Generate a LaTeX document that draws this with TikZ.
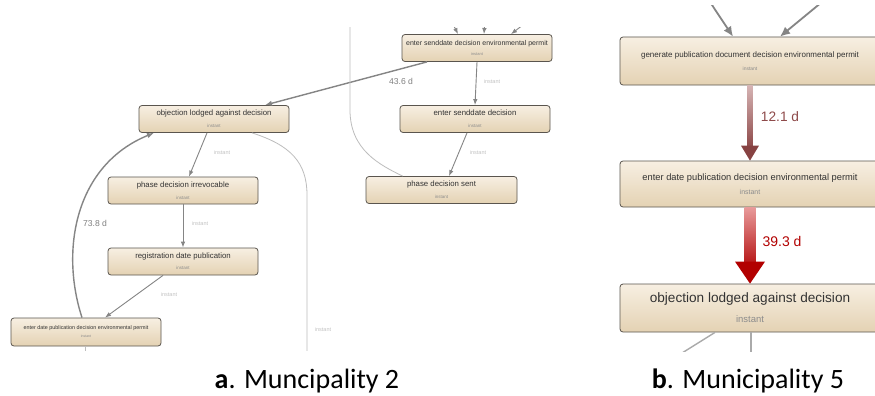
\documentclass[tikz,border=0pt]{standalone}
\usepackage{fontspec}
\setmainfont{Liberation Sans}
\newfontfamily\capfont{Carlito}
\usetikzlibrary{arrows.meta,calc}
\definecolor{boxedge}{HTML}{5A554E}
\definecolor{boxtop}{HTML}{F7EFE2}
\definecolor{boxbot}{HTML}{E4D2B3}
\definecolor{boxtext}{HTML}{333333}
\definecolor{subgray}{HTML}{8C8C8C}
\definecolor{flowgray}{HTML}{858585}
\definecolor{lightline}{HTML}{BDBDBD}
\definecolor{edgelbl}{HTML}{C2C2C2}
\definecolor{durgray}{HTML}{808080}
\definecolor{midtop}{HTML}{D6B4B4}
\definecolor{midbot}{HTML}{8E4A4A}
\definecolor{midhead}{HTML}{874242}
\definecolor{hottop}{HTML}{E89A9A}
\definecolor{hotbot}{HTML}{B81A1A}
\definecolor{hothead}{HTML}{B20000}
\newcommand\instlbl[1]{{\color{subgray}\fontsize{#1}{#1}\selectfont instant}}
\begin{document}
\begin{tikzpicture}[x=1pt,y=-1pt,
  box/.style={rectangle, rounded corners=3pt, draw=boxedge, line width=0.8pt,
    top color=boxtop, bottom color=boxbot, inner sep=0pt, align=center,
    text=boxtext},
  smallbox/.style={box, minimum width=150pt, minimum height=27pt},
  bigbox/.style={box, minimum width=260pt, minimum height=48pt},
  flow/.style={draw=flowgray, line width=0.9pt, -{Latex[length=6pt,width=4.5pt]}},
  heavy/.style={draw=flowgray, line width=1.4pt, -{Latex[length=7pt,width=5.5pt]}},
  thin/.style={draw=lightline, line width=0.8pt},
  inlbl/.style={text=edgelbl, font=\fontsize{5.5}{6}\selectfont, inner sep=0pt},
  durlbl/.style={text=durgray, font=\fontsize{8.6}{9}\selectfont, inner sep=0pt},
  bigflow/.style={draw=flowgray, line width=1.8pt, -{Latex[length=10pt,width=9pt]}},
  outline/.style={draw=lightline!90!black, line width=1.4pt},
  caption/.style={font=\capfont\fontsize{28}{30}\selectfont, inner sep=0pt, anchor=base}
]
\fill[white] (0,0) rectangle (875,396);
\useasboundingbox (0,0) rectangle (875,396);

% ---------------- left panel ----------------
\begin{scope}
\clip (0,28) rectangle (565,350);
\node[smallbox, font=\fontsize{7}{10}\selectfont] (A) at (477,48)
  {enter senddate decision environmental permit\\\instlbl{4}};
\node[smallbox, font=\fontsize{7.8}{12}\selectfont] (B) at (214,119)
  {objection lodged against decision\\\instlbl{4.5}};
\node[smallbox, font=\fontsize{7.8}{12}\selectfont] (C) at (475,119)
  {enter senddate decision\\\instlbl{4.5}};
\node[smallbox, minimum width=151pt, font=\fontsize{7.8}{12}\selectfont] (D) at (441.5,190)
  {phase decision sent\\\instlbl{4.5}};
\node[smallbox, font=\fontsize{7.8}{12}\selectfont] (E) at (183,190.5)
  {phase decision irrevocable\\\instlbl{4.5}};
\node[smallbox, font=\fontsize{7.8}{11}\selectfont] (F) at (183,261.5)
  {registration date publication\\\instlbl{4.5}};
\node[smallbox, minimum height=28pt, font=\fontsize{5.4}{8}\selectfont] (G) at (86,332)
  {enter date publication decision environmental permit\\\instlbl{3.5}};

% incoming flows from above the visible area
\coordinate (up1) at (450,18);
\coordinate (up2) at (485,18);
\coordinate (up3) at (532,18);
\coordinate (upline) at (350,18);
\draw[flow] (up1) -- ($(A.north)+(-19,0)$);
\draw[flow] (up2) -- ($(A.north)+(7,0)$);
\draw[flow] (up3) -- ($(A.north)+(34,0)$);

\draw[flow] (A.south) -- (C.north);
\draw[flow] ($(C.south)+(-8,0)$) -- ($(D.north)+(7.5,0)$);
\draw[flow] ($(B.south)+(-7,0)$) -- ($(E.north)+(6,0)$);
\draw[flow] (E.south) -- (F.north);
\draw[flow] ($(F.south)+(-20,0)$) -- ($(G.north)+(19,0)$);
\draw[heavy] ($(A.south)+(-50,0)$) -- ($(B.north)+(51,0)$);
\draw[heavy] ($(G.north)+(-4,0)$) .. controls (60,250) and (75,165) .. ($(B.south)+(-60,0)$);

\draw[thin] (upline) -- (350,110) .. controls (350,150) and (380,165) .. ($(D.north west)+(37,0)$);
\draw[thin] ($(B.south)+(38,0)$) .. controls (290,145) and (307,162) .. (307,195) -- (307,360);
\draw[thin] ($(G.south)+(-1,0)$) -- ++(0,20);

\node[inlbl] at (492,82) {instant};
\node[inlbl] at (478,153) {instant};
\node[inlbl] at (222,153) {instant};
\node[inlbl] at (200,224) {instant};
\node[inlbl] at (169,295) {instant};
\node[inlbl] at (323,330) {instant};
\node[durlbl] at (401,81) {43.6 d};
\node[durlbl] at (95,223) {73.8 d};
\end{scope}

% ---------------- right panel ----------------
\begin{scope}
\clip (580,6) rectangle (875,351);
\node[bigbox, font=\fontsize{8}{13}\selectfont] (H) at (750,61)
  {generate publication document decision environmental permit\\\instlbl{5}};
\node[bigbox, minimum height=46pt, font=\fontsize{9.3}{14}\selectfont] (I) at (750,184)
  {enter date publication decision environmental permit\\\instlbl{7}};
\node[bigbox, font=\fontsize{13.6}{20}\selectfont] (J) at (750,308)
  {objection lodged against decision\\\instlbl{9.5}};

\coordinate (rin1) at (710,2);
\coordinate (rin2) at (822,2);
\draw[bigflow] (rin1) -- ($(H.north)+(-17,0)$);
\draw[bigflow] (rin2) -- ($(H.north)+(30,0)$);

% 12.1 d: shaded shaft with a solid head
\shade[top color=midtop, bottom color=midbot]
  ($(H.south)+(-2.6,0)$) rectangle ($(I.north)+(2.6,-14)$);
\fill[midhead] ($(I.north)+(-9,-15)$) -- ($(I.north)+(9,-15)$) -- (I.north) -- cycle;
\node[text=midbot, font=\fontsize{13.7}{14}\selectfont, inner sep=0pt] at (780,117) {12.1 d};

% 39.3 d: wider shaded shaft with a larger head
\shade[top color=hottop, bottom color=hotbot]
  ($(I.south)+(-5.5,0)$) rectangle ($(J.north)+(5.5,-21)$);
\fill[hothead] ($(J.north)+(-15,-22)$) -- ($(J.north)+(15,-22)$) -- (J.north) -- cycle;
\node[text=hothead, font=\fontsize{14}{14}\selectfont, inner sep=0pt] at (782,241) {39.3 d};

\draw[outline] ($(J.south)+(-35,0)$) -- ++(-32,20);
\draw[outline] ($(J.south)+(1,0)$) -- ++(0,22);
\end{scope}

% ---------------- captions ----------------
\node[caption] (capA) at (307,388) {\textbf{a}. Muncipality 2};
\node[caption] (capB) at (748,388) {\textbf{b}. Municipality 5};
\end{tikzpicture}
\end{document}
